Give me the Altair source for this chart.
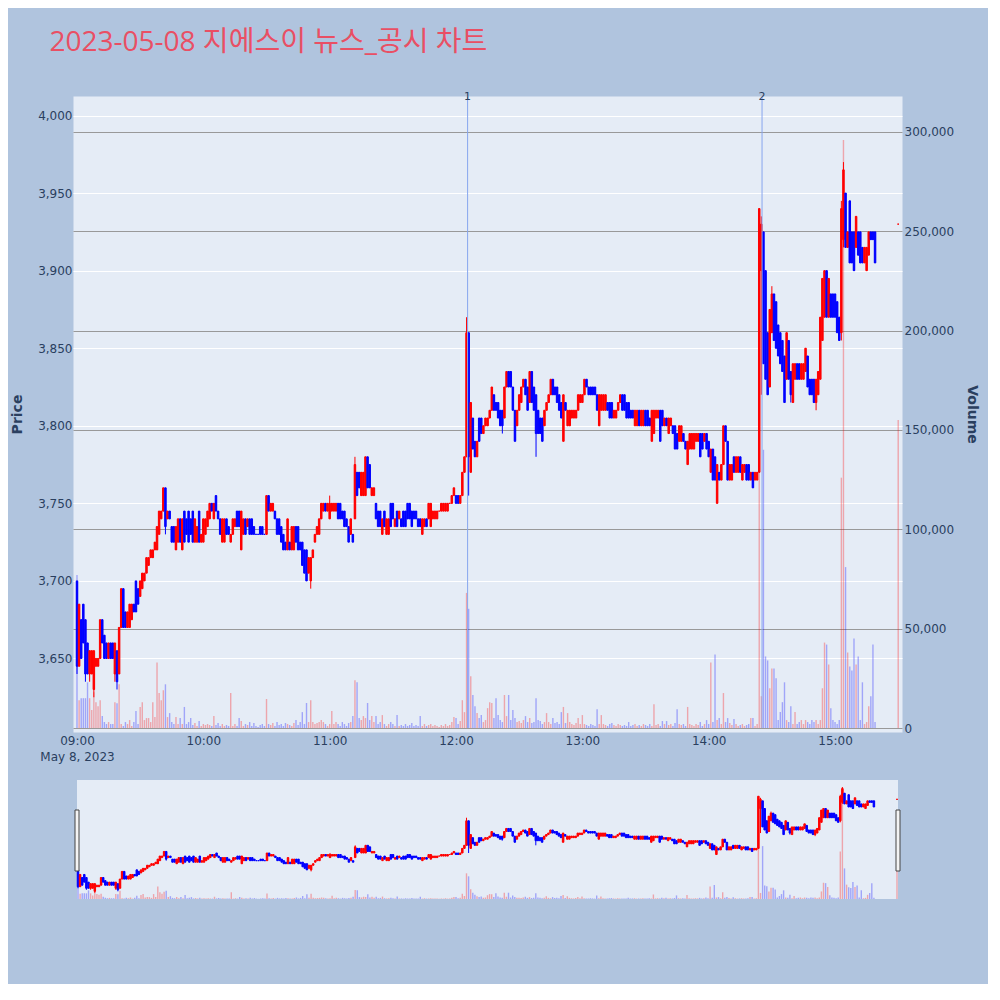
import altair as alt
import pandas as pd

TITLE = "2023-05-08 지에스이 뉴스_공시 차트"
DAY = "2023-05-08"

# one-minute candles 09:00 .. 15:19 (open / close)
open_px = [
    3700, 3645, 3675, 3685, 3675, 3660, 3640, 3640, 3630, 3645,
    3645, 3650, 3675, 3665, 3660, 3650, 3660, 3660, 3640, 3655,
    3640, 3670, 3695, 3680, 3670, 3670, 3675, 3685, 3700, 3695,
    3690, 3695, 3700, 3705, 3710, 3715, 3715, 3720, 3720, 3730,
    3740, 3745, 3760, 3740, 3745, 3735, 3735, 3720, 3725, 3740,
    3720, 3745, 3740, 3745, 3740, 3745, 3725, 3725, 3745, 3725,
    3725, 3730, 3735, 3740, 3750, 3740, 3755, 3745, 3740, 3725,
    3725, 3740, 3735, 3725, 3730, 3735, 3745, 3745, 3720, 3730,
    3740, 3735, 3740, 3740, 3735, 3730, 3730, 3735, 3735, 3730,
    3730, 3755, 3745, 3745, 3745, 3740, 3740, 3735, 3730, 3725,
    3720, 3725, 3720, 3720, 3735, 3735, 3725, 3725, 3720, 3720,
    3705, 3700, 3715, 3725, 3730, 3730, 3740, 3745, 3750, 3745,
    3740, 3745, 3745, 3745, 3750, 3750, 3745, 3745, 3740, 3735,
    3730, 3730, 3740, 3770, 3770, 3755, 3755, 3755, 3780, 3775,
    3755, 3755, 3750, 3745, 3745, 3730, 3745, 3730, 3730, 3750,
    3750, 3735, 3745, 3740, 3740, 3745, 3745, 3750, 3750, 3745,
    3745, 3745, 3740, 3740, 3730, 3735, 3740, 3740, 3735, 3740,
    3740, 3740, 3745, 3745, 3745, 3745, 3745, 3750, 3750, 3755,
    3755, 3755, 3750, 3755, 3770, 3780, 3860, 3770, 3805, 3790,
    3780, 3805, 3805, 3795, 3800, 3800, 3805, 3810, 3820, 3815,
    3815, 3810, 3810, 3805, 3825, 3835, 3835, 3825, 3810, 3800,
    3810, 3815, 3825, 3830, 3825, 3815, 3835, 3825, 3820, 3810,
    3805, 3805, 3800, 3810, 3815, 3820, 3830, 3825, 3825, 3820,
    3815, 3790, 3815, 3800, 3800, 3805, 3805, 3805, 3810, 3815,
    3815, 3820, 3830, 3825, 3825, 3825, 3825, 3820, 3800, 3810,
    3810, 3810, 3815, 3815, 3815, 3805, 3805, 3810, 3815, 3820,
    3820, 3815, 3815, 3810, 3810, 3800, 3800, 3810, 3800, 3800,
    3810, 3810, 3805, 3790, 3795, 3805, 3805, 3810, 3810, 3800,
    3805, 3795, 3800, 3800, 3800, 3795, 3790, 3790, 3795, 3790,
    3775, 3785, 3785, 3785, 3790, 3790, 3795, 3795, 3790, 3795,
    3790, 3770, 3785, 3780, 3750, 3770, 3765, 3775, 3800, 3790,
    3765, 3765, 3780, 3770, 3770, 3780, 3765, 3770, 3775, 3775,
    3765, 3770, 3765, 3765, 3770, 3900, 3925, 3900, 3860, 3825,
    3860, 3885, 3880, 3865, 3860, 3855, 3845, 3830, 3855, 3835,
    3815, 3830, 3840, 3840, 3830, 3830, 3835, 3845, 3830, 3830,
    3830, 3815, 3820, 3830, 3855, 3870, 3900, 3870, 3885, 3885,
    3885, 3880, 3870, 3860, 3920, 3950, 3915, 3945, 3925, 3925,
    3915, 3925, 3925, 3915, 3905, 3900, 3910, 3925, 3925, 3925,
]
close_px = [
    3645, 3685, 3650, 3660, 3640, 3640, 3655, 3655, 3655, 3650,
    3650, 3675, 3660, 3650, 3650, 3660, 3650, 3650, 3660, 3635,
    3670, 3695, 3670, 3670, 3680, 3685, 3685, 3680, 3680, 3685,
    3700, 3705, 3705, 3715, 3715, 3720, 3720, 3725, 3735, 3745,
    3745, 3760, 3735, 3745, 3740, 3725, 3725, 3735, 3740, 3725,
    3740, 3725, 3730, 3725, 3730, 3725, 3740, 3735, 3725, 3730,
    3740, 3740, 3745, 3750, 3745, 3750, 3745, 3740, 3730, 3740,
    3740, 3730, 3730, 3730, 3740, 3740, 3735, 3735, 3745, 3740,
    3730, 3740, 3730, 3730, 3730, 3730, 3730, 3730, 3730, 3730,
    3755, 3745, 3750, 3750, 3740, 3730, 3730, 3725, 3720, 3720,
    3740, 3720, 3735, 3735, 3725, 3720, 3720, 3710, 3705, 3700,
    3715, 3715, 3720, 3730, 3735, 3740, 3750, 3750, 3745, 3750,
    3750, 3750, 3750, 3750, 3740, 3740, 3740, 3735, 3735, 3725,
    3740, 3725, 3775, 3755, 3760, 3770, 3770, 3780, 3760, 3760,
    3760, 3760, 3740, 3735, 3735, 3740, 3735, 3740, 3740, 3735,
    3740, 3740, 3735, 3745, 3735, 3735, 3735, 3740, 3740, 3735,
    3740, 3740, 3735, 3735, 3740, 3740, 3735, 3750, 3750, 3745,
    3745, 3745, 3745, 3750, 3750, 3750, 3750, 3750, 3755, 3760,
    3750, 3750, 3755, 3770, 3780, 3860, 3780, 3815, 3785, 3780,
    3790, 3790, 3795, 3800, 3805, 3805, 3810, 3825, 3810, 3810,
    3805, 3800, 3800, 3825, 3835, 3825, 3825, 3810, 3790, 3810,
    3820, 3825, 3830, 3820, 3810, 3835, 3815, 3810, 3795, 3795,
    3795, 3790, 3810, 3815, 3820, 3830, 3820, 3820, 3815, 3810,
    3805, 3820, 3810, 3810, 3810, 3810, 3810, 3810, 3820, 3820,
    3820, 3830, 3825, 3820, 3820, 3820, 3820, 3810, 3820, 3820,
    3820, 3820, 3810, 3805, 3805, 3810, 3810, 3815, 3820, 3810,
    3810, 3805, 3805, 3805, 3805, 3810, 3810, 3800, 3810, 3810,
    3800, 3800, 3800, 3810, 3810, 3810, 3810, 3790, 3800, 3805,
    3800, 3805, 3805, 3795, 3785, 3785, 3800, 3800, 3790, 3785,
    3790, 3795, 3795, 3795, 3795, 3795, 3780, 3785, 3795, 3785,
    3780, 3785, 3765, 3765, 3775, 3765, 3775, 3800, 3790, 3765,
    3775, 3775, 3770, 3780, 3780, 3770, 3775, 3775, 3765, 3765,
    3770, 3760, 3770, 3770, 3940, 3930, 3840, 3830, 3820, 3875,
    3885, 3855, 3850, 3845, 3840, 3835, 3815, 3860, 3830, 3820,
    3840, 3840, 3830, 3830, 3840, 3840, 3850, 3825, 3820, 3820,
    3815, 3830, 3835, 3870, 3895, 3900, 3870, 3895, 3870, 3870,
    3870, 3860, 3855, 3940, 3965, 3915, 3925, 3905, 3905, 3900,
    3935, 3910, 3905, 3905, 3915, 3915, 3925, 3920, 3920, 3905,
]
# wicks that reach beyond the candle body (minute index -> price)
wick_high = {0: 3700, 120: 3755, 132: 3780, 185: 3870, 324: 3940,
             325: 3935, 330: 3890, 363: 3945, 364: 3970}
wick_low = {0: 3640, 4: 3635, 6: 3635, 8: 3625, 18: 3635, 19: 3630,
            42: 3730, 111: 3695, 186: 3755, 202: 3795, 218: 3780,
            231: 3790, 304: 3750, 325: 3820, 339: 3815, 351: 3810,
            363: 3855, 364: 3915, 379: 3905}
volume = [
    77000, 14000, 15000, 15000, 15000, 23000, 15000, 9000, 18000, 13000,
    11000, 14000, 6000, 3000, 2000, 3000, 2000, 2000, 13000, 12500,
    22000, 2000, 1000, 3000, 2000, 4000, 1000, 3000, 8600, 2000,
    10600, 13000, 4000, 5000, 5000, 3000, 13000, 5500, 33000, 17600,
    14000, 19000, 22000, 5500, 7500, 3000, 2000, 5500, 2000, 5000,
    2000, 10600, 2000, 3000, 5000, 1500, 2500, 1000, 3500, 1000,
    2000, 1500, 2000, 1500, 1000, 6000, 1500, 2500, 1000, 2000,
    1000, 1500, 1000, 17600, 1000, 2000, 1000, 5000, 3500, 1000,
    2000, 1500, 3000, 1000, 2500, 1000, 500, 1500, 2000, 1000,
    14600, 2000, 1500, 2500, 1000, 3000, 1500, 2000, 1000, 2500,
    2000, 1500, 1000, 2500, 4000, 1500, 3000, 8000, 2000, 12600,
    3000, 14000, 3000, 2000, 2500, 3000, 4000, 3000, 2000, 1000,
    2000, 8600, 2000, 3000, 2000, 1000, 3000, 2000, 1000, 2500,
    3000, 6000, 24000, 23000, 5000, 4000, 6000, 5000, 12600, 4000,
    6000, 3000, 6000, 2000, 3000, 6500, 2000, 1000, 2000, 3000,
    2000, 1000, 6500, 1000, 1500, 1000, 2000, 1000, 1500, 2500,
    1000, 1500, 1000, 6000, 1000, 2000, 1000, 1500, 2000, 1000,
    1500, 1000, 500, 1500, 1000, 2000, 1000, 1500, 3000, 5500,
    5000, 2000, 3500, 14000, 8000, 68000, 60000, 26000, 16600, 11000,
    7500, 5000, 6500, 3000, 4000, 10000, 13000, 12600, 5000, 15000,
    6500, 4000, 3000, 16600, 6000, 16600, 4000, 9000, 5000, 3000,
    3500, 2500, 4000, 6000, 3000, 5000, 2500, 3000, 15000, 4000,
    3500, 2000, 3000, 7500, 3000, 2000, 5000, 2500, 3000, 2000,
    8000, 10600, 2500, 7500, 3000, 2000, 1500, 2500, 5000, 2000,
    6500, 2000, 1500, 1000, 2000, 1500, 1000, 9500, 2000, 6500,
    2000, 1500, 1000, 2000, 2500, 1500, 1000, 2000, 1500, 1000,
    1500, 1000, 3000, 1000, 1500, 2000, 1000, 1500, 1000, 2000,
    1500, 1000, 2000, 1000, 12000, 1500, 2000, 1000, 3500, 2000,
    3500, 1500, 2000, 1000, 2500, 9500, 2000, 1500, 2000, 1000,
    10600, 2000, 1500, 1000, 2000, 1500, 3000, 1000, 2000, 4000,
    2000, 33000, 3000, 37000, 4000, 5000, 2000, 17600, 3000, 5000,
    2500, 1500, 4500, 2000, 1000, 1500, 2000, 1000, 1500, 2000,
    5000, 5000, 1000, 2000, 205000, 16000, 140000, 36000, 34000, 20000,
    30000, 30000, 25000, 4000, 8000, 13000, 23000, 4000, 3000, 11000,
    2000, 8000, 2000, 3000, 4000, 2000, 4000, 3000, 2000, 4000,
    3000, 4000, 2000, 4000, 20000, 43000, 42000, 32000, 10000, 4000,
    3000, 2000, 4000, 126000, 296000, 81000, 38000, 31000, 29000, 45000,
    32000, 36000, 4000, 23000, 2000, 3000, 11000, 16000, 42000, 3000,
]
closing_time = "15:30:00"
closing_price = 3930
closing_volume = 155000

news_times = ["12:05:30", "14:25:20"]
news_labels = ["1", "2"]

price_ticks = [3650, 3700, 3750, 3800, 3850, 3900, 3950, 4000]
volume_ticks = [0, 50000, 100000, 150000, 200000, 250000, 300000]
hour_ticks = [9, 10, 11, 12, 13, 14, 15]

# ---------------------------------------------------------------- table
rows = []
prev_c = None
prev_d = "up"
start = pd.Timestamp(f"{DAY} 09:00:00")


def direction(o, c, prev_c, prev_d):
    if c > o:
        return "up"
    if c < o:
        return "down"
    if prev_c is not None and c > prev_c:
        return "up"
    if prev_c is not None and c < prev_c:
        return "down"
    return prev_d


for i, (o, c) in enumerate(zip(open_px, close_px)):
    d = direction(o, c, prev_c, prev_d)
    h = max(o, c, wick_high.get(i, o))
    lo = min(o, c, wick_low.get(i, o))
    t = (start + pd.Timedelta(minutes=i)).strftime("%Y-%m-%dT%H:%M:%S")
    rows.append({"t": t, "o": o, "c": c, "h": h, "l": lo, "v": volume[i], "dir": d})
    prev_c, prev_d = c, d

d = direction(closing_price, closing_price, prev_c, prev_d)
rows.append({"t": f"{DAY}T{closing_time}", "o": closing_price, "c": closing_price,
             "h": closing_price, "l": closing_price, "v": closing_volume, "dir": d})
df = pd.DataFrame(rows)

news_df = pd.DataFrame({"t": [f"{DAY}T{s}" for s in news_times], "label": news_labels})
one = pd.DataFrame({"title": [TITLE]})

# ---------------------------------------------------------------- style
INK = "#2a3f5f"
LBL_FONT = "DejaVu Sans"
UP, DOWN = "#FF0000", "#0000FF"


def dt(h, m=0, s=0):
    return alt.DateTime(year=2023, month=5, date=8, hours=h, minutes=m, seconds=s)


dir_color = alt.Color("dir:N", scale=alt.Scale(domain=["up", "down"], range=[UP, DOWN]), legend=None)
dir_stroke = alt.Stroke("dir:N", scale=alt.Scale(domain=["up", "down"], range=[UP, DOWN]), legend=None)

x_axis = alt.Axis(
    values=[dt(h) for h in hour_ticks],
    labelExpr="hours(datum.value) == 9 ? [timeFormat(datum.value, '%H:%M'), 'May 8, 2023'] : timeFormat(datum.value, '%H:%M')",
    title=None, grid=False, domain=False, ticks=False, labelFlush=False,
    labelPadding=3, labelFont=LBL_FONT, labelFontSize=12, labelColor=INK,
    labelLineHeight=16,
)
X_main = alt.X("t:T", scale=alt.Scale(domain=[dt(8, 58, 6), dt(15, 31, 48)], padding=0), axis=x_axis)

price_scale = alt.Scale(domain=[3602.6, 4012.6], nice=False, zero=False, padding=0)
price_axis = alt.Axis(
    title="Price", orient="left", values=price_ticks, format=",d",
    grid=True, gridColor="#FFFFFF", gridWidth=1, domain=False, ticks=False,
    labelPadding=1, labelFont=LBL_FONT, labelFontSize=12, labelColor=INK,
    titleFont=LBL_FONT, titleFontSize=14, titleFontWeight="bold", titleColor=INK,
    titlePadding=13,
)
vol_scale = alt.Scale(domain=[-2013, 318120], nice=False, zero=False, padding=0)
vol_axis = alt.Axis(
    title="Volume", orient="right", values=volume_ticks, format=",d",
    grid=True, gridColor="#999999", gridWidth=1, domain=False, ticks=False,
    labelPadding=2, labelFont=LBL_FONT, labelFontSize=12, labelColor=INK,
    titleFont=LBL_FONT, titleFontSize=14, titleFontWeight="bold", titleColor=INK,
    titlePadding=11,
)

base = alt.Chart(df)

vol_main = base.mark_bar(size=1.4, opacity=0.3).encode(
    x=X_main, y=alt.Y("v:Q", scale=vol_scale, axis=vol_axis), y2=alt.datum(0), color=dir_color
)
wick_main = base.mark_rule(strokeWidth=1).encode(
    x=X_main, y=alt.Y("l:Q", scale=price_scale, axis=price_axis), y2="h:Q", color=dir_color
)
body_main = base.mark_bar(size=1.5, strokeWidth=1).encode(
    x=X_main, y=alt.Y("o:Q", scale=price_scale, axis=price_axis), y2="c:Q",
    color=dir_color, stroke=dir_stroke
)
price_main = alt.layer(wick_main, body_main)

news_rule = alt.Chart(news_df).mark_rule(color="#87A6EE", strokeWidth=1).encode(
    x=X_main, y=alt.value(1), y2=alt.value(632)
)
news_text = alt.Chart(news_df).mark_text(
    font=LBL_FONT, fontSize=11, color=INK, align="center", baseline="alphabetic"
).encode(x=X_main, y=alt.value(4), text="label:N")

title_text = alt.Chart(one).mark_text(
    font="Open Sans, Noto Sans CJK KR", fontSize=28, color="#E94F64",
    align="left", baseline="alphabetic"
).encode(x=alt.value(-23.5), y=alt.value(-45), text="title:N")

main = alt.layer(vol_main, price_main, news_rule, news_text, title_text).resolve_scale(y="independent")

# ---------------------------------------------------------------- range slider
X_sl = alt.X("t:T", scale=alt.Scale(domain=[dt(9), dt(15, 30)], range=[5, 824], padding=0), axis=None)
sp_scale = alt.Scale(domain=[3605, 3993], range=[803, 684], nice=False, zero=False, padding=0)
sv_scale = alt.Scale(domain=[0, 315000], range=[803, 684], nice=False, zero=False, padding=0)

sl_bg = alt.Chart(one).mark_rect(color="#E5ECF6").encode(
    x=alt.value(4), x2=alt.value(825), y=alt.value(684), y2=alt.value(803)
)
sl_vol = base.mark_bar(size=1.4, opacity=0.3).encode(
    x=X_sl, y=alt.Y("v:Q", scale=sv_scale, axis=None), y2=alt.datum(0), color=dir_color
)
sl_wick = base.mark_rule(strokeWidth=1).encode(
    x=X_sl, y=alt.Y("l:Q", scale=sp_scale, axis=None), y2="h:Q", color=dir_color
)
sl_body = base.mark_bar(size=1.5, strokeWidth=1).encode(
    x=X_sl, y=alt.Y("o:Q", scale=sp_scale, axis=None), y2="c:Q",
    color=dir_color, stroke=dir_stroke
)
sl_price = alt.layer(sl_wick, sl_body)
handle_l = alt.Chart(one).mark_rect(fill="#F4F4F4", stroke="#444444", strokeWidth=1).encode(
    x=alt.value(2), x2=alt.value(6), y=alt.value(714), y2=alt.value(775)
)
handle_r = alt.Chart(one).mark_rect(fill="#F4F4F4", stroke="#444444", strokeWidth=1).encode(
    x=alt.value(823), x2=alt.value(827), y=alt.value(714), y2=alt.value(775)
)
slider = alt.layer(sl_bg, sl_vol, sl_price, handle_l, handle_r).resolve_scale(y="independent")

chart = (
    alt.layer(main, slider)
    .resolve_scale(x="independent", y="independent")
    .properties(
        width=829, height=636,
        autosize=alt.AutoSizeParams(type="none"),
        padding={"left": 65, "top": 88, "right": 86, "bottom": 252},
    )
    .configure(background="#B0C4DE")
    .configure_view(fill="#E5ECF6", stroke="transparent")
)

chart.save("out.html", embed_options={"renderer": "svg", "actions": False})
